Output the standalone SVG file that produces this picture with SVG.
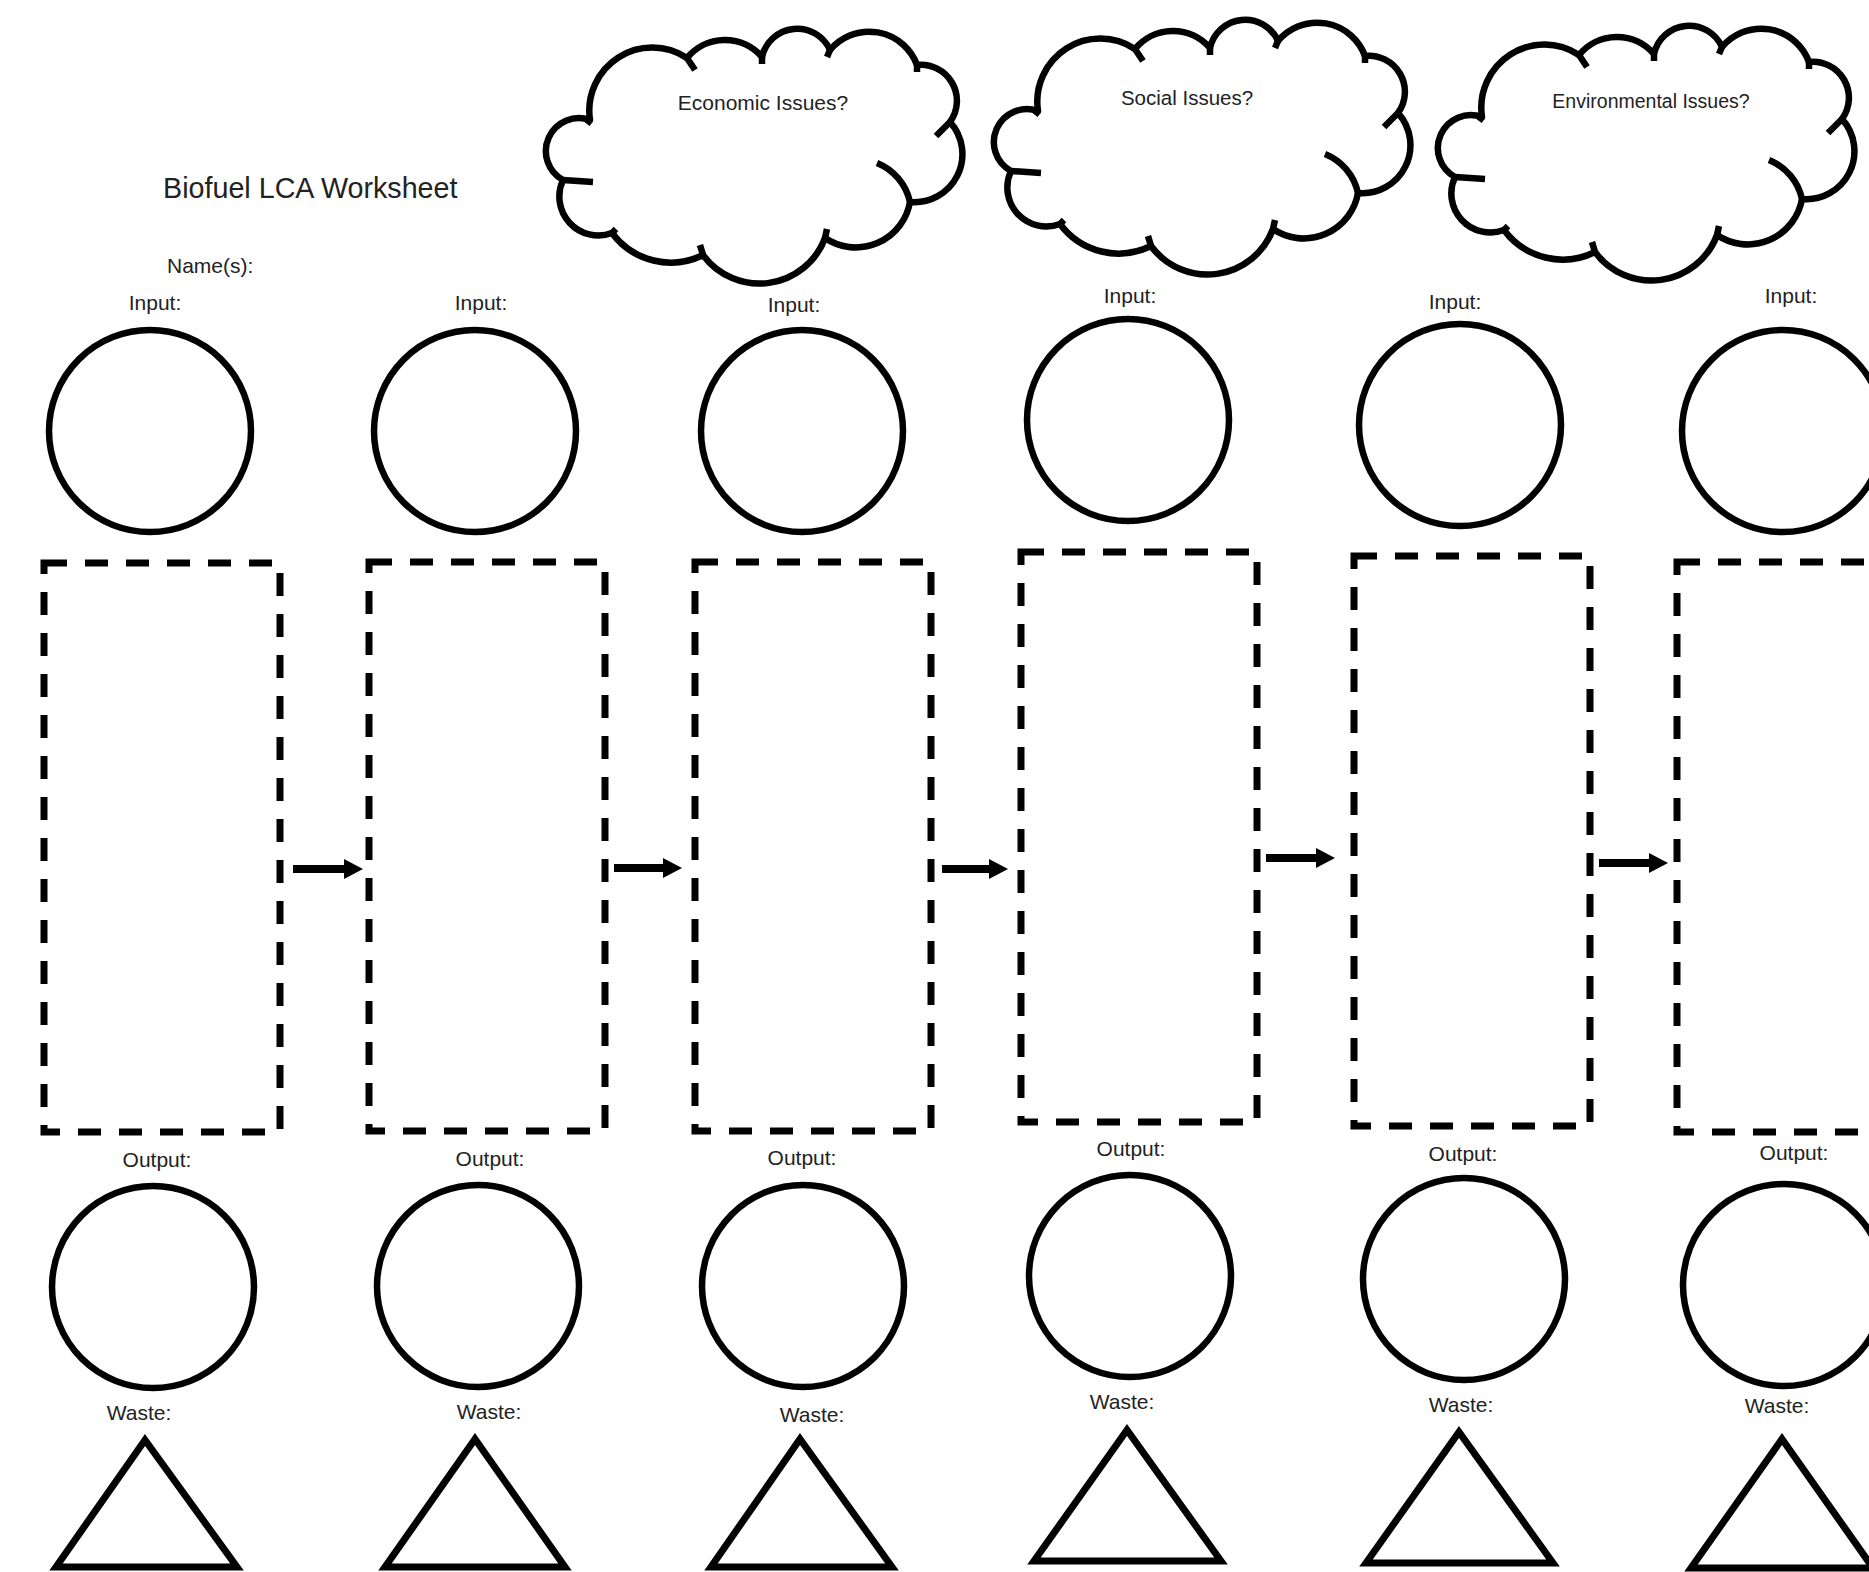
<svg xmlns="http://www.w3.org/2000/svg" xmlns:xlink="http://www.w3.org/1999/xlink" width="1869" height="1572" viewBox="0 0 1869 1572">
<style>
text{font-family:"Liberation Sans",Arial,sans-serif;fill:#222}
.lbl{font-size:21px;text-anchor:middle}
.cloudtxt{text-anchor:middle}
.circ{fill:none;stroke:#000;stroke-width:6.5}
.proc{fill:none;stroke:#000;stroke-width:7;stroke-dasharray:23 18}
.tri{fill:none;stroke:#000;stroke-width:7;stroke-linejoin:miter}
.cloud{fill:#fff;stroke:#000;stroke-width:6.5;stroke-linejoin:round}
.tick{fill:none;stroke:#000;stroke-width:6.5;stroke-linecap:butt}
.conn{stroke:#000;stroke-width:8;fill:none}
</style>
<defs>
<marker id="ah" markerUnits="userSpaceOnUse" markerWidth="20" markerHeight="20" viewBox="0 0 20 20" refX="0" refY="10" orient="auto">
<path d="M0,0 L19,10 L0,20 Z" fill="#000"/>
</marker>
<g id="cloudShape">
<path class="cloud" d="M590 120 A33 33 0 0 0 563 180 A39 39 0 0 0 612 233 A73 73 0 0 0 703 255 A70 70 0 0 0 825 238 A55 55 0 0 0 910 202 A48 48 0 0 0 950 122 A36 36 0 0 0 917 65 A51 51 0 0 0 830 50 A36 36 0 0 0 762 57 A49 49 0 0 0 687 58 A63 63 0 0 0 590 120 Z"/>
<path class="tick" d="M877 163 A55 55 0 0 1 910 202"/>
<path class="tick" d="M687 58 L695 70 M762 57 L762 64 M830 50 L827 57 M917 65 L917 72 M950 122 L936 136 M825 238 L827 229 M703 255 L700 245 M612 233 L616 229 M563 180 L593 182 M590 120 L587 124"/>
</g>
</defs>
<rect width="1869" height="1572" fill="#fff"/>

<g id="title">
<text x="163" y="198" style="font-size:28.7px">Biofuel LCA Worksheet</text>
<text x="167" y="273" style="font-size:21px">Name(s):</text>
</g>

<g id="cloud-economic">
<use xlink:href="#cloudShape"/>
<text class="cloudtxt" x="763" y="110" style="font-size:21px">Economic Issues?</text>
</g>
<g id="cloud-social">
<use xlink:href="#cloudShape" transform="translate(448,-9)"/>
<text class="cloudtxt" x="1187" y="105" style="font-size:20.5px">Social Issues?</text>
</g>
<g id="cloud-environmental">
<use xlink:href="#cloudShape" transform="translate(892,-3)"/>
<text class="cloudtxt" x="1651" y="108" style="font-size:19.5px">Environmental Issues?</text>
</g>

<g id="stage1">
<text class="lbl" x="155" y="310">Input:</text>
<circle class="circ" cx="150" cy="431" r="101"/>
<rect class="proc" x="44" y="563" width="236" height="569"/>
<text class="lbl" x="157" y="1167">Output:</text>
<circle class="circ" cx="153" cy="1287" r="101"/>
<text class="lbl" x="139" y="1420">Waste:</text>
<polygon class="tri" points="145,1440 56,1567 237,1567"/>
</g>

<g id="stage2">
<text class="lbl" x="481" y="310">Input:</text>
<circle class="circ" cx="475" cy="431" r="101"/>
<rect class="proc" x="369" y="562" width="236" height="569"/>
<text class="lbl" x="490" y="1166">Output:</text>
<circle class="circ" cx="478" cy="1286" r="101"/>
<text class="lbl" x="489" y="1419">Waste:</text>
<polygon class="tri" points="475,1439 385,1567 565,1567"/>
</g>

<g id="stage3">
<text class="lbl" x="794" y="312">Input:</text>
<circle class="circ" cx="802" cy="431" r="101"/>
<rect class="proc" x="695" y="562" width="236" height="569"/>
<text class="lbl" x="802" y="1165">Output:</text>
<circle class="circ" cx="803" cy="1286" r="101"/>
<text class="lbl" x="812" y="1422">Waste:</text>
<polygon class="tri" points="800,1439 711,1567 892,1567"/>
</g>

<g id="stage4">
<text class="lbl" x="1130" y="303">Input:</text>
<circle class="circ" cx="1128" cy="420" r="101"/>
<rect class="proc" x="1021" y="552" width="236" height="570"/>
<text class="lbl" x="1131" y="1156">Output:</text>
<circle class="circ" cx="1130" cy="1276" r="101"/>
<text class="lbl" x="1122" y="1409">Waste:</text>
<polygon class="tri" points="1127,1430 1034,1561 1221,1561"/>
</g>

<g id="stage5">
<text class="lbl" x="1455" y="309">Input:</text>
<circle class="circ" cx="1460" cy="425" r="101"/>
<rect class="proc" x="1354" y="556" width="236" height="570"/>
<text class="lbl" x="1463" y="1161">Output:</text>
<circle class="circ" cx="1464" cy="1279" r="101"/>
<text class="lbl" x="1461" y="1412">Waste:</text>
<polygon class="tri" points="1459,1432 1366,1563 1553,1563"/>
</g>

<g id="stage6">
<text class="lbl" x="1791" y="303">Input:</text>
<circle class="circ" cx="1783" cy="431" r="101"/>
<rect class="proc" x="1677" y="562" width="236" height="570"/>
<text class="lbl" x="1794" y="1160">Output:</text>
<circle class="circ" cx="1784" cy="1285" r="101"/>
<text class="lbl" x="1777" y="1413">Waste:</text>
<polygon class="tri" points="1782,1439 1691,1568 1873,1568"/>
</g>

<g id="connectors">
<line class="conn" x1="293" y1="869" x2="344" y2="869" marker-end="url(#ah)"/>
<line class="conn" x1="614" y1="868" x2="663" y2="868" marker-end="url(#ah)"/>
<line class="conn" x1="942" y1="869" x2="989" y2="869" marker-end="url(#ah)"/>
<line class="conn" x1="1266" y1="858" x2="1316" y2="858" marker-end="url(#ah)"/>
<line class="conn" x1="1599" y1="863" x2="1649" y2="863" marker-end="url(#ah)"/>
</g>
</svg>
